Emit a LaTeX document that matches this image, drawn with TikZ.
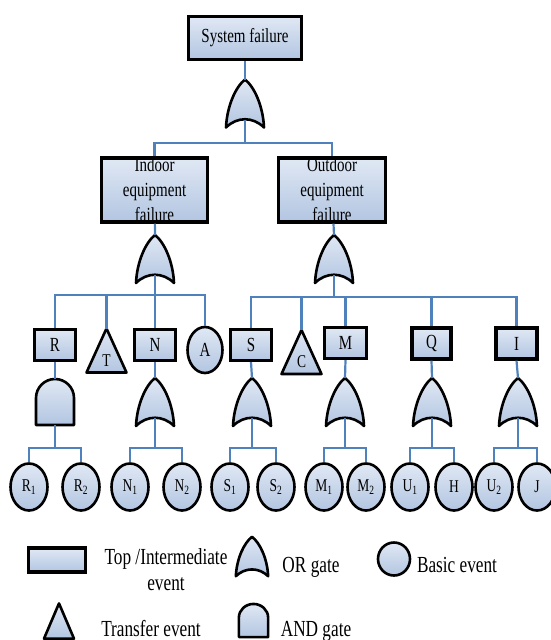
\documentclass[tikz,border=0pt]{standalone}
\usepackage{fontspec}
\setmainfont{Liberation Serif}[FakeStretch=0.75]
\usetikzlibrary{shapes.geometric}
\definecolor{lineblue}{RGB}{79,129,189}
\definecolor{filltop}{RGB}{224,232,244}
\definecolor{fillbot}{RGB}{178,197,225}

\begin{document}
\begin{tikzpicture}[x=1pt, y=-1pt,
  font=\fontsize{20}{24}\selectfont,
  fl/.style={top color=filltop, bottom color=fillbot},
  ev/.style={draw, line width=3.2pt, fl, inner sep=0pt, align=center},
  basic/.style={draw, ellipse, line width=2.6pt, fl, inner sep=0pt, minimum width=37pt, minimum height=47pt, font=\fontsize{18}{20}\selectfont},
  gate/.style={draw, line width=2.6pt, fl, line join=round},
  conn/.style={draw=lineblue, line width=2.2pt},
  lbl/.style={font=\fontsize{23}{26}\selectfont, align=center},
  pics/orgate/.style={code={
    \path[gate] (-19,24) .. controls (-18,2) and (-9,-17) .. (0,-24)
      .. controls (9,-17) and (18,2) .. (19,24)
      .. controls (8,13) and (-8,13) .. (-19,24) -- cycle;
    \coordinate (-top) at (0,-24); \coordinate (-bot) at (0,16);}},
  pics/andgate/.style={code={
    \path[gate] (-19,23) -- (-19,-4) .. controls (-19,-14.5) and (-10.5,-23) .. (0,-23)
      .. controls (10.5,-23) and (19,-14.5) .. (19,-4) -- (19,23) -- cycle;
    \coordinate (-top) at (0,-23); \coordinate (-bot) at (0,23);}},
  pics/transfer/.style={code={
    \path[gate] (-20,22) -- (0,-22) -- (20,22) -- cycle;
    \node[font=\fontsize{18}{20}\selectfont] (-lbl) at (0,10) {#1};
    \coordinate (-top) at (0,-22);}}]
\useasboundingbox (0,0) rectangle (550,640);

\node[ev, minimum width=113pt, minimum height=43pt] (sys) at (245,38) {System failure};
\pic (g0) at (245,103.5) {orgate};
\node[ev, minimum width=106pt, minimum height=63pt, font=\fontsize{20}{25}\selectfont] (ind) at (154.5,190) {Indoor\\equipment\\failure};
\node[ev, minimum width=107pt, minimum height=63pt, font=\fontsize{20}{25}\selectfont] (out) at (332,190) {Outdoor\\equipment\\failure};
\pic (g1) at (155,259) {orgate};
\pic (g2) at (334,259) {orgate};

\node[ev, minimum width=41pt, minimum height=31pt] (R) at (55,345) {R};
\pic (T) at (106.5,350.5) {transfer=T};
\node[ev, minimum width=41pt, minimum height=31pt] (N) at (155,345) {N};
\node[basic, minimum width=35pt, minimum height=46pt, font=\fontsize{20}{24}\selectfont] (A) at (205,350) {A};
\node[ev, minimum width=41pt, minimum height=31pt] (S) at (251,345) {S};
\pic (C) at (301.5,352) {transfer=C};
\node[ev, minimum width=42pt, minimum height=31pt] (M) at (345.5,343) {M};
\node[ev, minimum width=39pt, minimum height=31pt] (Q) at (431.5,343.5) {Q};
\node[ev, minimum width=41pt, minimum height=31pt] (I) at (516.5,343.5) {I};

\pic (gR) at (55,402) {andgate};
\pic (gN) at (155,402) {orgate};
\pic (gS) at (252,402) {orgate};
\pic (gM) at (345,402) {orgate};
\pic (gQ) at (432,402) {orgate};
\pic (gI) at (518,402) {orgate};

\node[basic] (R1) at (29,487) {R\textsubscript{1}};
\node[basic] (R2) at (81,487) {R\textsubscript{2}};
\node[basic] (N1) at (130,487) {N\textsubscript{1}};
\node[basic] (N2) at (182,487) {N\textsubscript{2}};
\node[basic] (S1) at (230,487) {S\textsubscript{1}};
\node[basic] (S2) at (276,487) {S\textsubscript{2}};
\node[basic] (M1) at (324,487) {M\textsubscript{1}};
\node[basic] (M2) at (366,487) {M\textsubscript{2}};
\node[basic] (U1) at (410,487) {U\textsubscript{1}};
\node[basic] (H) at (454,487) {H};
\node[basic] (U2) at (494,487) {U\textsubscript{2}};
\node[basic] (J) at (537,487) {J};

\coordinate (b0) at (245,143);
\coordinate (b1) at (155,295);
\coordinate (b2) at (334,297);
\coordinate (lo) at (0,448);

\draw[conn] (sys) -- (g0-top); \draw[conn] (g0-bot) -- (b0);
\draw[conn] (ind.north) |- (b0) -| (out.north);
\draw[conn] (ind) -- (g1-top); \draw[conn] (out) -- (g2-top);
\draw[conn] (g1-bot) -- (b1); \draw[conn] (g2-bot) -- (b2);
\draw[conn] (R.north) |- (b1) -| (A.north);
\draw[conn] (T-top) -- (T-top |- b1); \draw[conn] (N.north) -- (N.north |- b1);
\draw[conn] (S.north) |- (b2) -| (I.north);
\draw[conn] (C-top) -- (C-top |- b2); \draw[conn] (M.north) -- (M.north |- b2);
\draw[conn] (Q.north) -- (Q.north |- b2);
\foreach \p/\a/\b in {R/R1/R2, N/N1/N2, S/S1/S2, M/M1/M2, Q/U1/H, I/U2/J}{
  \draw[conn] (\p.south) -- (g\p-top);
  \draw[conn] (g\p-bot) -- (g\p-bot |- lo);
  \draw[conn] (\a.north) |- (g\p-bot |- lo) -| (\b.north);
}

\node[ev, minimum width=57pt, minimum height=24pt] (lgbox) at (57,560) {};
\node[lbl, anchor=base] (lgboxtxt) at (166,590) {Top /Intermediate\\event};
\pic[xscale=0.85, yscale=0.82] (lgor) at (252,556.5) {orgate};
\node[lbl, anchor=base] (lgortxt) at (311,572) {OR gate};
\node[basic, minimum width=32pt, minimum height=33pt] (lgbasic) at (394,559) {};
\node[lbl, anchor=base] (lgbasictxt) at (457,572) {Basic event};
\pic[xscale=0.75, yscale=0.8] (lgtr) at (59,621) {transfer={}};
\node[lbl, anchor=base] (lgtrtxt) at (151,636) {Transfer event};
\pic[xscale=0.77, yscale=0.72] (lgand) at (253.5,620.5) {andgate};
\node[lbl, anchor=base] (lgandtxt) at (316,636) {AND gate};
\end{tikzpicture}
\end{document}
